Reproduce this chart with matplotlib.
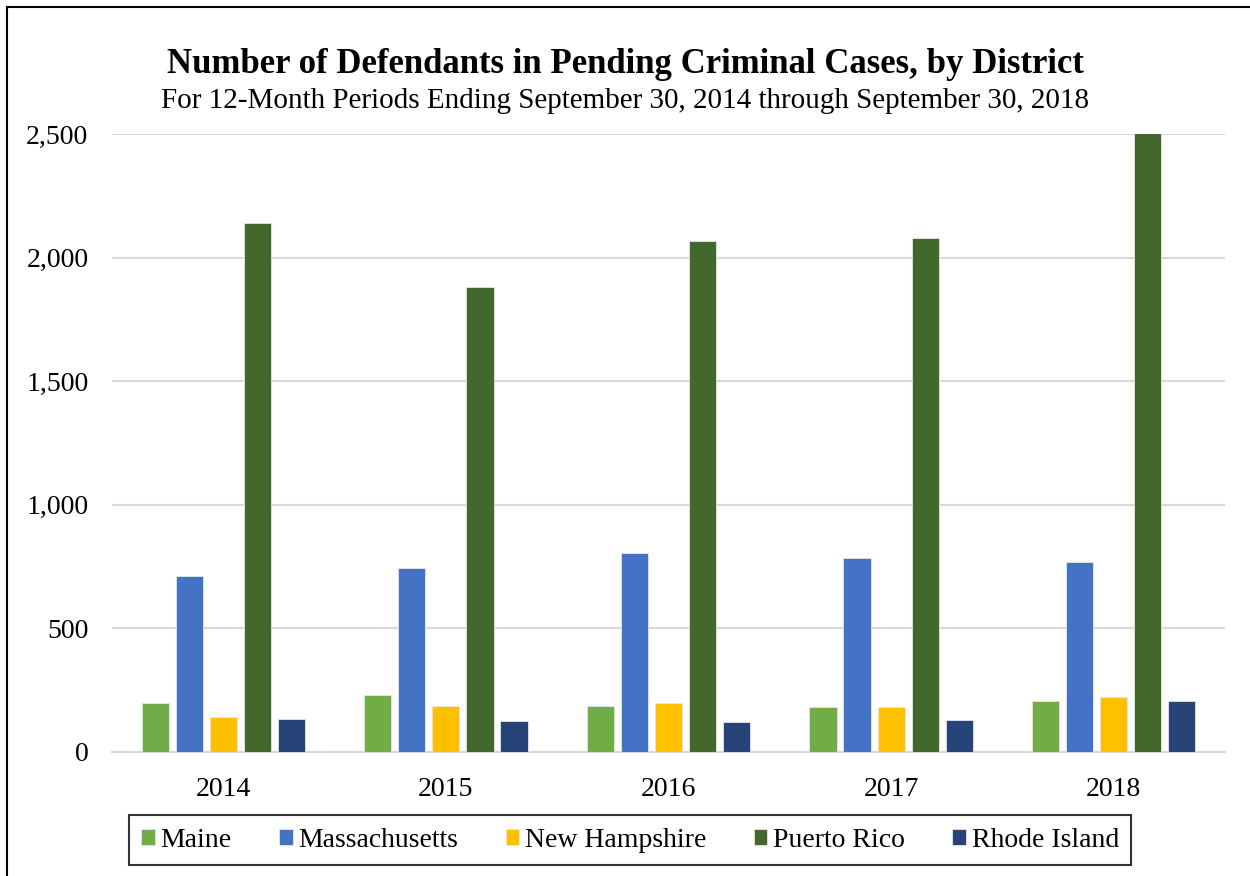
import matplotlib.pyplot as plt
import matplotlib.patches as patches
import numpy as np
from matplotlib.ticker import FuncFormatter

plt.rcParams['font.family'] = ['Liberation Serif', 'DejaVu Serif']

years = ['2014', '2015', '2016', '2017', '2018']
districts = ['Maine', 'Massachusetts', 'New Hampshire', 'Puerto Rico', 'Rhode Island']
maine = [198, 231, 186, 182, 206]
massachusetts = [712, 744, 805, 785, 769]
new_hampshire = [142, 186, 198, 182, 222]
puerto_rico = [2140, 1881, 2067, 2079, 2510]
rhode_island = [133, 125, 121, 129, 206]
colors = ['#70AD47', '#4472C4', '#FFC000', '#43682B', '#264478']

series = [maine, massachusetts, new_hampshire, puerto_rico, rhode_island]

fig = plt.figure(figsize=(12.5, 8.76), dpi=100, facecolor='white')
ax = fig.add_axes([0.0896, 0.1416, 0.8904, 0.7054])

x = np.arange(len(years))
pitch = 0.153
width = 0.122
for i, (name, vals, c) in enumerate(zip(districts, series, colors)):
    ax.bar(x + (i - 2) * pitch, vals, width, color=c, label=name,
           edgecolor='#E6E6E6', linewidth=0.6, zorder=3)

ax.set_ylim(0, 2500)
ax.set_xlim(-0.5, len(years) - 0.5)
ax.set_yticks(range(0, 2501, 500))
ax.yaxis.set_major_formatter(FuncFormatter(lambda v, p: f'{int(v):,}'))
ax.set_xticks(x)
ax.set_xticklabels(years)
ax.tick_params(axis='both', length=0, labelsize=20, colors='black')
ax.tick_params(axis='y', pad=17)
ax.tick_params(axis='x', pad=18)
ax.grid(axis='y', color='#D9D9D9', linewidth=1.5, zorder=0)
for s in ['top', 'right', 'left']:
    ax.spines[s].set_visible(False)
ax.spines['bottom'].set_color('#D9D9D9')
ax.spines['bottom'].set_linewidth(1.5)

fig.text(0.5, 0.926, 'Number of Defendants in Pending Criminal Cases, by District',
         ha='center', va='center', fontsize=25, fontweight='bold')
fig.text(0.5, 0.885, 'For 12-Month Periods Ending September 30, 2014 through September 30, 2018',
         ha='center', va='center', fontsize=21)

leg = fig.legend(loc='center', bbox_to_anchor=(0.504, 0.041), ncol=5, fontsize=20,
                 frameon=True, fancybox=False, edgecolor='black',
                 handlelength=0.5, handleheight=0.5, handletextpad=0.2,
                 columnspacing=1.7, borderpad=0.45)
leg.get_frame().set_linewidth(1.5)

border = patches.Rectangle((7 / 1250, -0.05), 1.1, 1 - 7 / 876 + 0.05,
                           transform=fig.transFigure, fill=False,
                           edgecolor='black', linewidth=1.5)
fig.patches.append(border)

fig.savefig('out.png', dpi=100, facecolor='white')
